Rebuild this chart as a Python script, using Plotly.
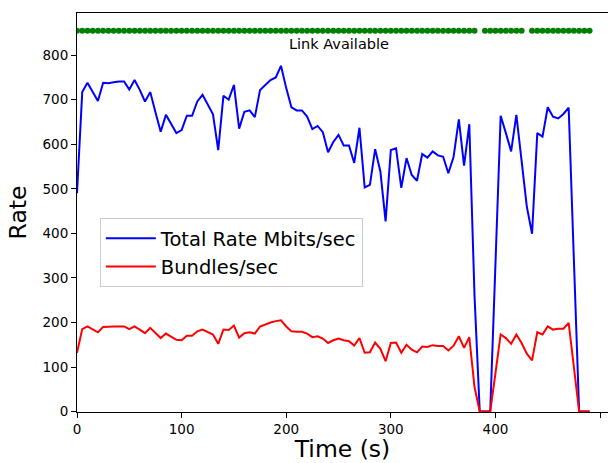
import plotly.graph_objects as go

# Time axis (s), sampled every 5 s
time_s = [5 * i for i in range(99)]

total_rate_mbits = [
    490, 717, 738, 717, 697, 738, 737, 739, 741, 741,
    723, 744, 722, 696, 717, 672, 628, 666, 645, 625,
    632, 664, 664, 696, 711, 690, 667, 587, 709, 700,
    733, 635, 673, 676, 661, 722, 733, 744, 750, 776,
    726, 683, 676, 676, 662, 634, 641, 627, 582, 605,
    621, 597, 597, 558, 637, 503, 509, 589, 539, 427,
    587, 591, 502, 569, 531, 518, 578, 570, 584, 575,
    572, 535, 572, 656, 552, 645, 260, 0, 0, 0,
    330, 664, 625, 584, 666, 560, 460, 399, 625, 617,
    683, 662, 658, 668, 682, 340, 0, 0, 0,
]

bundles_per_sec = [
    132, 185, 191, 185, 178, 190, 191, 191, 191, 191,
    185, 191, 184, 176, 188, 177, 165, 175, 168, 161,
    160, 170, 170, 180, 184, 179, 173, 152, 184, 183,
    193, 166, 176, 178, 175, 191, 196, 200, 203, 205,
    191, 180, 179, 179, 175, 167, 169, 164, 154, 160,
    164, 160, 158, 148, 165, 132, 133, 155, 141, 113,
    154, 155, 132, 150, 139, 133, 146, 145, 149, 147,
    147, 137, 148, 169, 143, 167, 55, 0, 0, 0,
    86, 173, 165, 152, 173, 154, 130, 115, 178, 173,
    191, 184, 186, 186, 199, 100, 0, 0, 0,
]

# Times at which the link was available
link_times = list(range(0, 381, 5)) + list(range(390, 426, 5)) + list(range(435, 491, 5))
link_level = [855] * len(link_times)

x_ticks = [0, 100, 200, 300, 400, 500]
y_ticks = [0, 100, 200, 300, 400, 500, 600, 700, 800]

FONT = "DejaVu Sans"

fig = go.Figure()
fig.add_trace(go.Scatter(
    x=link_times, y=link_level, mode="markers",
    marker=dict(color="#008000", size=6), showlegend=False, hoverinfo="skip",
))
fig.add_trace(go.Scatter(
    x=time_s, y=total_rate_mbits, mode="lines", name="Total Rate Mbits/sec",
    line=dict(color="#0000ff", width=2), legendgroup="a",
))
fig.add_trace(go.Scatter(
    x=time_s, y=bundles_per_sec, mode="lines", name="Bundles/sec",
    line=dict(color="#ff0000", width=2), legendgroup="b",
))

fig.add_annotation(
    x=250, y=825, xref="x", yref="y", text="Link Available", showarrow=False,
    font=dict(family=FONT, size=14.5, color="#000000"),
)

fig.update_layout(
    width=608, height=463,
    margin=dict(l=77, r=0, t=13, b=51),
    paper_bgcolor="white", plot_bgcolor="white",
    font=dict(family=FONT, color="#000000"),
    showlegend=True,
    legend=dict(
        x=0.043, y=0.486, xanchor="left", yanchor="top",
        bgcolor="rgba(255,255,255,0.8)", bordercolor="#cccccc", borderwidth=1,
        font=dict(family=FONT, size=19.5), traceorder="grouped", tracegroupgap=0,
        itemwidth=50,
    ),
    xaxis=dict(
        range=[0, 507.6], tickvals=x_ticks, ticks="outside", ticklen=5, tickwidth=1,
        tickcolor="#000000", showline=True, linecolor="#000000", linewidth=1,
        mirror=True, showgrid=False, zeroline=False, automargin=False,
        tickfont=dict(family=FONT, size=13.5),
        title=dict(text="Time (s)", font=dict(family=FONT, size=23.5), standoff=4),
    ),
    yaxis=dict(
        range=[-1, 894.6], tickvals=y_ticks, ticks="outside", ticklen=5, tickwidth=1,
        tickcolor="#000000", showline=True, linecolor="#000000", linewidth=1,
        mirror=False, showgrid=False, zeroline=False, automargin=False,
        tickfont=dict(family=FONT, size=13.5),
        title=dict(text="Rate", font=dict(family=FONT, size=23.5), standoff=9),
    ),
)

fig.write_html(
    "out.html",
    config={"displayModeBar": False},
    post_script="document.body.style.margin='0px';",
)
